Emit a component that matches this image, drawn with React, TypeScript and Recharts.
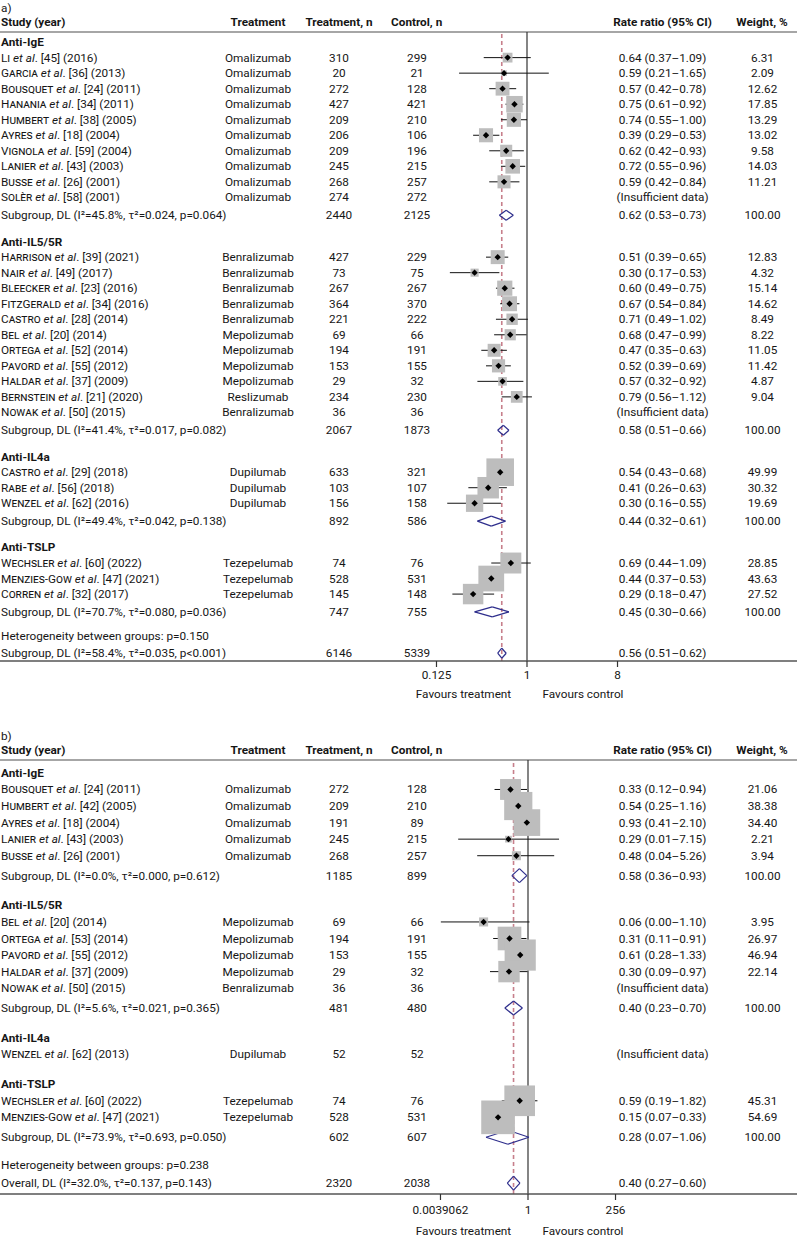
import React from "react";
import { ScatterChart, Scatter, XAxis, YAxis, ReferenceLine, ErrorBar } from "recharts";

const FONT = "Roboto, 'Noto Sans', sans-serif";
const FS = 11.75;
const INK = "#161616";
const SQUARE = "#bdbdbd";
const NAVY = "#2e2e8c";
const DASH = "#c77f8b";

// ---------- panel a ----------
const groupsA = ["Anti-IgE", "Anti-IL5/5R", "Anti-IL4a", "Anti-TSLP"];
const groupOfA = [0, 0, 0, 0, 0, 0, 0, 0, 0, 0, 1, 1, 1, 1, 1, 1, 1, 1, 1, 1, 1, 2, 2, 2, 3, 3, 3];
const authorA = ["Li", "Garcia", "Bousquet", "Hanania", "Humbert", "Ayres", "Vignola", "Lanier", "Busse", "Solèr",
  "Harrison", "Nair", "Bleecker", "FitzGerald", "Castro", "Bel", "Ortega", "Pavord", "Haldar", "Bernstein", "Nowak",
  "Castro", "Rabe", "Wenzel", "Wechsler", "Menzies-Gow", "Corren"];
const refA = [45, 36, 24, 34, 38, 18, 59, 43, 26, 58, 39, 49, 23, 34, 28, 20, 52, 55, 37, 21, 50, 29, 56, 62, 60, 47, 32];
const yearA = [2016, 2013, 2011, 2011, 2005, 2004, 2004, 2003, 2001, 2001, 2021, 2017, 2016, 2016, 2014, 2014, 2014, 2012, 2009, 2020, 2015, 2018, 2018, 2016, 2022, 2021, 2017];
const drugA = ["Omalizumab", "Omalizumab", "Omalizumab", "Omalizumab", "Omalizumab", "Omalizumab", "Omalizumab", "Omalizumab", "Omalizumab", "Omalizumab",
  "Benralizumab", "Benralizumab", "Benralizumab", "Benralizumab", "Benralizumab", "Mepolizumab", "Mepolizumab", "Mepolizumab", "Mepolizumab", "Reslizumab", "Benralizumab",
  "Dupilumab", "Dupilumab", "Dupilumab", "Tezepelumab", "Tezepelumab", "Tezepelumab"];
const tnA = [310, 20, 272, 427, 209, 206, 209, 245, 268, 274, 427, 73, 267, 364, 221, 69, 194, 153, 29, 234, 36, 633, 103, 156, 74, 528, 145];
const cnA = [299, 21, 128, 421, 210, 106, 196, 215, 257, 272, 229, 75, 267, 370, 222, 66, 191, 155, 32, 230, 36, 321, 107, 158, 76, 531, 148];
const rrA = [0.64, 0.59, 0.57, 0.75, 0.74, 0.39, 0.62, 0.72, 0.59, null, 0.51, 0.30, 0.60, 0.67, 0.71, 0.68, 0.47, 0.52, 0.57, 0.79, null, 0.54, 0.41, 0.30, 0.69, 0.44, 0.29];
const loA = [0.37, 0.21, 0.42, 0.61, 0.55, 0.29, 0.42, 0.55, 0.42, null, 0.39, 0.17, 0.49, 0.54, 0.49, 0.47, 0.35, 0.39, 0.32, 0.56, null, 0.43, 0.26, 0.16, 0.44, 0.37, 0.18];
const hiA = [1.09, 1.65, 0.78, 0.92, 1.00, 0.53, 0.93, 0.96, 0.84, null, 0.65, 0.53, 0.75, 0.84, 1.02, 0.99, 0.63, 0.69, 0.92, 1.12, null, 0.68, 0.63, 0.55, 1.09, 0.53, 0.47];
const wA = [6.31, 2.09, 12.62, 17.85, 13.29, 13.02, 9.58, 14.03, 11.21, null, 12.83, 4.32, 15.14, 14.62, 8.49, 8.22, 11.05, 11.42, 4.87, 9.04, null, 49.99, 30.32, 19.69, 28.85, 43.63, 27.52];
const subStatsA = ["I²=45.8%, τ²=0.024, p=0.064", "I²=41.4%, τ²=0.017, p=0.082", "I²=49.4%, τ²=0.042, p=0.138", "I²=70.7%, τ²=0.080, p=0.036"];
const subTnA = [2440, 2067, 892, 747];
const subCnA = [2125, 1873, 586, 755];
const subRrA = [0.62, 0.58, 0.44, 0.45];
const subLoA = [0.53, 0.51, 0.32, 0.30];
const subHiA = [0.73, 0.66, 0.61, 0.66];
const hetA = "p=0.150";
const overallA = { label: "Subgroup, DL (I²=58.4%, τ²=0.035, p<0.001)", tn: 6146, cn: 5339, rr: 0.56, lo: 0.51, hi: 0.62 };
const ticksA = [-3, 0, 3];
const tickLabelsA = ["0.125", "1", "8"];

// ---------- panel b ----------
const groupsB = ["Anti-IgE", "Anti-IL5/5R", "Anti-IL4a", "Anti-TSLP"];
const groupOfB = [0, 0, 0, 0, 0, 1, 1, 1, 1, 1, 2, 3, 3];
const authorB = ["Bousquet", "Humbert", "Ayres", "Lanier", "Busse", "Bel", "Ortega", "Pavord", "Haldar", "Nowak", "Wenzel", "Wechsler", "Menzies-Gow"];
const refB = [24, 42, 18, 43, 26, 20, 53, 55, 37, 50, 62, 60, 47];
const yearB = [2011, 2005, 2004, 2003, 2001, 2014, 2014, 2012, 2009, 2015, 2013, 2022, 2021];
const drugB = ["Omalizumab", "Omalizumab", "Omalizumab", "Omalizumab", "Omalizumab", "Mepolizumab", "Mepolizumab", "Mepolizumab", "Mepolizumab", "Benralizumab", "Dupilumab", "Tezepelumab", "Tezepelumab"];
const tnB = [272, 209, 191, 245, 268, 69, 194, 153, 29, 36, 52, 74, 528];
const cnB = [128, 210, 89, 215, 257, 66, 191, 155, 32, 36, 52, 76, 531];
const rrB = [0.33, 0.54, 0.93, 0.29, 0.48, 0.06, 0.31, 0.61, 0.30, null, null, 0.59, 0.15];
const loB = [0.12, 0.25, 0.41, 0.012, 0.04, 0.004, 0.11, 0.28, 0.09, null, null, 0.19, 0.07];
const hiB = [0.94, 1.16, 2.10, 7.15, 5.26, 1.10, 0.91, 1.33, 0.97, null, null, 1.82, 0.33];
const wB = [21.06, 38.38, 34.40, 2.21, 3.94, 3.95, 26.97, 46.94, 22.14, null, null, 45.31, 54.69];
const subStatsB = ["I²=0.0%, τ²=0.000, p=0.612", "I²=5.6%, τ²=0.021, p=0.365", null, "I²=73.9%, τ²=0.693, p=0.050"];
const subTnB = [1185, 481, null, 602];
const subCnB = [899, 480, null, 607];
const subRrB = [0.58, 0.40, null, 0.28];
const subLoB = [0.36, 0.23, null, 0.07];
const subHiB = [0.93, 0.70, null, 1.06];
const hetB = "p=0.238";
const overallB = { label: "Overall, DL (I²=32.0%, τ²=0.137, p=0.143)", tn: 2320, cn: 2038, rr: 0.40, lo: 0.27, hi: 0.60 };
const ticksB = [-8, 0, 8];
const tickLabelsB = ["0.0039062", "1", "256"];

const panelA = {
  groups: groupsA, groupOf: groupOfA, author: authorA, ref: refA, year: yearA, drug: drugA, tn: tnA, cn: cnA,
  rr: rrA, lo: loA, hi: hiA, w: wA, subStats: subStatsA, subTn: subTnA, subCn: subCnA, subRr: subRrA,
  subLo: subLoA, subHi: subHiA, het: hetA, overall: overallA, ticks: ticksA, tickLabels: tickLabelsA,
};
const panelB = {
  groups: groupsB, groupOf: groupOfB, author: authorB, ref: refB, year: yearB, drug: drugB, tn: tnB, cn: cnB,
  rr: rrB, lo: loB, hi: hiB, w: wB, subStats: subStatsB, subTn: subTnB, subCn: subCnB, subRr: subRrB,
  subLo: subLoB, subHi: subHiB, het: hetB, overall: overallB, ticks: ticksB, tickLabels: tickLabelsB,
};

// layout (row units, pixels)
const layoutA = {
  top: 0, marginTop: 32, height: 700, oneAt: 527, pxPerUnit: 30.17, sq: 3.9, dh: 5, tickMargin: 4,
  gap: { top: 0.65, toSub: 1.15, toGroup: 1.7, toHet: 1.56, toOverall: 1.1, bottom: 0.5 },
};
const layoutB = {
  top: 716, marginTop: 44, height: 517, oneAt: 528, pxPerUnit: 10.94, sq: 4.55, dh: 7, tickMargin: 6,
  gap: { top: 0.78, toSub: 1.2, toGroup: 1.8, toHet: 1.67, toOverall: 1.1, bottom: 0.66 },
};

const COL = { treat: 258, tn: 339, cn: 417, rr: 662.5, w: 762.5 };
const W = 797;
const AXIS_H = 39;

const log2 = (v: number) => Math.log2(v);
const ci = (rr: number, lo: number, hi: number) => `${rr.toFixed(2)} (${lo.toFixed(2)}–${hi.toFixed(2)})`;

function buildRows(p: any, g: any) {
  const rows: any[] = [];
  let y = g.top;
  p.groups.forEach((name: string, gi: number) => {
    if (gi > 0) y += g.toGroup;
    rows.push({ kind: "group", x: 0, y, label: name });
    p.author.forEach((_a: string, i: number) => {
      if (p.groupOf[i] !== gi) return;
      y += 1;
      rows.push({ kind: "study", x: 0, y, i });
    });
    if (p.subStats[gi] != null) {
      y += g.toSub;
      rows.push({ kind: "sub", x: 0, y, gi });
    }
  });
  y += g.toHet;
  rows.push({ kind: "het", x: 0, y });
  y += g.toOverall;
  rows.push({ kind: "overall", x: 0, y });
  return { rows, total: y + g.bottom };
}

const T = ({ x, y, anchor = "middle", children, ...rest }: any) => (
  <text x={x} y={y} textAnchor={anchor} dominantBaseline="central" fill={INK} fontSize={FS} fontFamily={FONT} {...rest}>
    {children}
  </text>
);

const RowText = ({ cy, payload, p }: any) => {
  const r = payload;
  if (r.kind === "group") return <T x={1} y={cy} anchor="start" fontWeight="bold">{r.label}</T>;
  if (r.kind === "het") return <T x={1} y={cy} anchor="start">{`Heterogeneity between groups: ${p.het}`}</T>;
  if (r.kind === "study") {
    const i = r.i;
    return (
      <g>
        <T x={1} y={cy} anchor="start">
          <tspan style={{ fontVariant: "small-caps" }}>{p.author[i]}</tspan>
          <tspan fontStyle="italic">{" et al"}</tspan>
          <tspan>{`. [${p.ref[i]}] (${p.year[i]})`}</tspan>
        </T>
        <T x={COL.treat} y={cy}>{p.drug[i]}</T>
        <T x={COL.tn} y={cy}>{p.tn[i]}</T>
        <T x={COL.cn} y={cy}>{p.cn[i]}</T>
        <T x={COL.rr} y={cy}>{p.rr[i] == null ? "(Insufficient data)" : ci(p.rr[i], p.lo[i], p.hi[i])}</T>
        {p.w[i] != null && <T x={COL.w} y={cy}>{p.w[i].toFixed(2)}</T>}
      </g>
    );
  }
  if (r.kind === "sub") {
    const gi = r.gi;
    return (
      <g>
        <T x={1} y={cy} anchor="start">{`Subgroup, DL (${p.subStats[gi]})`}</T>
        <T x={COL.tn} y={cy}>{p.subTn[gi]}</T>
        <T x={COL.cn} y={cy}>{p.subCn[gi]}</T>
        <T x={COL.rr} y={cy}>{ci(p.subRr[gi], p.subLo[gi], p.subHi[gi])}</T>
        <T x={COL.w} y={cy}>{(100).toFixed(2)}</T>
      </g>
    );
  }
  const o = p.overall;
  return (
    <g>
      <T x={1} y={cy} anchor="start">{o.label}</T>
      <T x={COL.tn} y={cy}>{o.tn}</T>
      <T x={COL.cn} y={cy}>{o.cn}</T>
      <T x={COL.rr} y={cy}>{ci(o.rr, o.lo, o.hi)}</T>
    </g>
  );
};

const Panel = ({ p, L }: any) => {
  const { rows, total } = buildRows(p, L.gap);
  const plotH = L.height - L.marginTop - AXIS_H;
  const unitPx = plotH / total;
  const dh = L.dh / unitPx;
  const minX = -L.oneAt / L.pxPerUnit;
  const maxX = (W - L.oneAt) / L.pxPerUnit;

  const studyRows = rows.filter((r) => r.kind === "study" && p.rr[r.i] != null);
  const squares = studyRows.map((r) => ({ x: log2(p.rr[r.i]), y: r.y, w: p.w[r.i] }));
  const points = studyRows.map((r) => {
    const x = log2(p.rr[r.i]);
    return { x, y: r.y, err: [x - log2(p.lo[r.i]), log2(p.hi[r.i]) - x] };
  });
  const diamonds = rows
    .filter((r) => r.kind === "sub" || r.kind === "overall")
    .map((r) => {
      const v = r.kind === "sub"
        ? { rr: p.subRr[r.gi], lo: p.subLo[r.gi], hi: p.subHi[r.gi] }
        : p.overall;
      return { y: r.y, c: log2(v.rr), l: log2(v.lo), h: log2(v.hi) };
    });

  return (
    <div style={{ position: "absolute", left: 0, top: L.top }}>
      <ScatterChart width={W} height={L.height} margin={{ top: L.marginTop, right: 0, bottom: 0, left: 0 }}>
        <XAxis
          type="number"
          dataKey="x"
          domain={[minX, maxX]}
          allowDataOverflow
          ticks={p.ticks}
          interval={0}
          tickFormatter={(v: number) => p.tickLabels[p.ticks.indexOf(v)]}
          axisLine={{ stroke: "#555", strokeWidth: 1.3 }}
          tickLine={{ stroke: "#333", strokeWidth: 1.2 }}
          tickSize={6}
          tickMargin={L.tickMargin}
          tick={{ fontSize: FS, fill: INK, fontFamily: FONT }}
          height={AXIS_H}
        />
        <YAxis type="number" dataKey="y" domain={[0, total]} reversed hide allowDataOverflow />
        <ReferenceLine y={0} stroke="#888" strokeWidth={1.6} />
        <Scatter
          data={squares}
          isAnimationActive={false}
          shape={(s: any) => {
            const size = L.sq * Math.sqrt(s.payload.w);
            return <rect x={s.cx - size / 2} y={s.cy - size / 2} width={size} height={size} fill={SQUARE} />;
          }}
        />
        <ReferenceLine x={0} stroke="#333" strokeWidth={1.2} />
        <ReferenceLine x={log2(p.overall.rr)} stroke={DASH} strokeWidth={1.6} strokeDasharray="4 3" />
        <Scatter
          data={points}
          isAnimationActive={false}
          shape={(s: any) => (
            <polygon
              points={`${s.cx - 3.2},${s.cy} ${s.cx},${s.cy - 3.2} ${s.cx + 3.2},${s.cy} ${s.cx},${s.cy + 3.2}`}
              fill="#000"
            />
          )}
        >
          <ErrorBar dataKey="err" direction="x" width={0} stroke="#111" strokeWidth={1} isAnimationActive={false} />
        </Scatter>
        {diamonds.map((d, k) => (
          <React.Fragment key={k}>
            <ReferenceLine segment={[{ x: d.l, y: d.y }, { x: d.c, y: d.y - dh }]} stroke={NAVY} strokeWidth={1.2} />
            <ReferenceLine segment={[{ x: d.c, y: d.y - dh }, { x: d.h, y: d.y }]} stroke={NAVY} strokeWidth={1.2} />
            <ReferenceLine segment={[{ x: d.h, y: d.y }, { x: d.c, y: d.y + dh }]} stroke={NAVY} strokeWidth={1.2} />
            <ReferenceLine segment={[{ x: d.c, y: d.y + dh }, { x: d.l, y: d.y }]} stroke={NAVY} strokeWidth={1.2} />
          </React.Fragment>
        ))}
        <Scatter data={rows} isAnimationActive={false} shape={(s: any) => <RowText {...s} p={p} />} />
      </ScatterChart>
    </div>
  );
};

const Header = ({ y, label }: { y: number; label: string }) => (
  <g>
    <T x={1} y={y - 14.5} anchor="start">{label}</T>
    <T x={1} y={y} anchor="start" fontWeight="bold">Study (year)</T>
    <T x={COL.treat} y={y} fontWeight="bold">Treatment</T>
    <T x={COL.tn} y={y} fontWeight="bold">Treatment, n</T>
    <T x={416.7} y={y} fontWeight="bold">Control, n</T>
    <T x={COL.rr} y={y} fontWeight="bold">Rate ratio (95% CI)</T>
    <T x={762} y={y} fontWeight="bold">Weight, %</T>
  </g>
);

const Favours = ({ y }: { y: number }) => (
  <g>
    <T x={463.5} y={y}>Favours treatment</T>
    <T x={583} y={y}>Favours control</T>
  </g>
);

export default function App() {
  return (
    <div style={{ position: "absolute", left: 0, top: 0, width: W, height: 1240, background: "#fff", fontFamily: FONT }}>
      <Panel p={panelA} L={layoutA} />
      <Panel p={panelB} L={layoutB} />
      <svg width={W} height={1240} style={{ position: "absolute", left: 0, top: 0, pointerEvents: "none" }}>
        <Header y={22} label="a)" />
        <Favours y={694} />
        <Header y={750.3} label="b)" />
        <Favours y={1231} />
      </svg>
    </div>
  );
}
